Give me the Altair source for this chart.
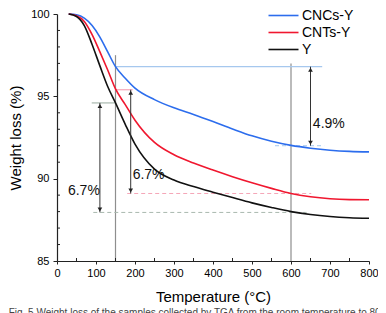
import altair as alt
import pandas as pd

# ---- data ----
temps = [30, 50, 70, 90, 110, 130, 150, 175, 200, 250, 300, 350, 400, 450, 500, 550, 600, 650, 700, 750, 800]
cncs_y = [100.0, 99.95, 99.75, 99.3, 98.6, 97.7, 96.8, 96.1, 95.5, 94.8, 94.3, 93.9, 93.47, 93.02, 92.6, 92.27, 92.02, 91.85, 91.73, 91.66, 91.63]
cnts_y = [100.0, 99.9, 99.55, 98.75, 97.7, 96.6, 95.45, 94.5, 93.55, 92.2, 91.45, 90.95, 90.52, 90.12, 89.75, 89.41, 89.1, 88.9, 88.78, 88.73, 88.72]
y_pure = [100.0, 99.85, 99.3, 98.15, 96.85, 95.6, 94.6, 93.3, 92.1, 90.58, 89.92, 89.52, 89.18, 88.85, 88.53, 88.25, 88.0, 87.82, 87.7, 87.63, 87.6]
series_names = ["CNCs-Y", "CNTs-Y", "Y"]
series_colors = ["#2c6ded", "#f0172f", "#111111"]

x_ticks = [0, 100, 200, 300, 400, 500, 600, 700, 800]
x_minor = [50, 150, 250, 350, 450, 550, 650, 750]
y_ticks = [85, 90, 95, 100]
y_minor = [86, 87, 88, 89, 91, 92, 93, 94, 96, 97, 98, 99]

# vertical guide lines
vline_t = [150, 600]
vline_top = [97.5, 97.0]
# solid horizontal marker lines
hline_y = [96.8, 95.4, 94.6]
hline_t1 = [150, 150, 89]
hline_t2 = [680, 194, 150]
hline_col = ["#a6c8ee", "#f5a6b8", "#a9b8ae"]
# dashed horizontal lines
dline_y = [92.0, 89.1, 87.95]
dline_t1 = [559, 180, 93]
dline_t2 = [685, 652, 640]
# arrows
arrow_t = [650, 189, 110]
arrow_top = [96.8, 95.4, 94.6]
arrow_bot = [92.0, 89.1, 87.95]
# labels
label_text = ["4.9%", "6.7%", "6.7%"]
label_t = [656, 194, 28]
label_y = [93.3, 90.25, 89.25]

caption = "Fig. 5  Weight loss of the samples collected by TGA from the room temperature to 800 °C."

FONT = "Liberation Sans"
W, H = 312, 247

rows = []
for name, vals in zip(series_names, [cncs_y, cnts_y, y_pure]):
    for t, v in zip(temps, vals):
        rows.append({"T": t, "W": v, "series": name})
df = pd.DataFrame(rows)

xs = alt.Scale(domain=[0, 800], nice=False, zero=False)
ys = alt.Scale(domain=[85, 100], nice=False, zero=False)

xax = alt.Axis(values=x_ticks, title="Temperature (°C)", grid=False, tickSize=3,
               labelPadding=3, titlePadding=11, domainColor="#222", tickColor="#222",
               labelColor="black", labelFontSize=11, labelFont=FONT, titleFont=FONT,
               titleFontSize=15, titleFontWeight="normal", titleColor="black",
               labelOverlap=False, labelFlush=False, labelBound=False)
yax = alt.Axis(values=y_ticks, title="Weight loss (%)", grid=False, tickSize=4,
               labelPadding=4, titlePadding=7, domainColor="#222", tickColor="#222",
               labelColor="black", labelFontSize=11, labelFont=FONT, titleFont=FONT,
               titleFontSize=15, titleFontWeight="normal", titleColor="black",
               labelOverlap=False, labelFlush=False, labelBound=False)


def X(field):
    return alt.X(field, scale=xs, axis=xax)


def Y(field):
    return alt.Y(field, scale=ys, axis=yax)


vdf = pd.DataFrame({"T": vline_t, "top": vline_top, "bot": [85] * len(vline_t)})
vlines = alt.Chart(vdf).mark_rule(color="#8e8e8e", strokeWidth=1.2).encode(
    x=X("T:Q"), y=Y("top:Q"), y2="bot:Q")

hdf = pd.DataFrame({"y": hline_y, "t1": hline_t1, "t2": hline_t2, "c": hline_col})
hlines = alt.Chart(hdf).mark_rule(strokeWidth=1.2).encode(
    x=X("t1:Q"), x2="t2:Q", y=Y("y:Q"), color=alt.Color("c:N", scale=None))

ddf = pd.DataFrame({"y": dline_y, "t1": dline_t1, "t2": dline_t2, "c": hline_col})
dlines = alt.Chart(ddf).mark_rule(strokeWidth=1, strokeDash=[4, 3]).encode(
    x=X("t1:Q"), x2="t2:Q", y=Y("y:Q"), color=alt.Color("c:N", scale=None))

curves = alt.Chart(df).mark_line(strokeWidth=1.6, interpolate="monotone").encode(
    x=X("T:Q"),
    y=Y("W:Q"),
    color=alt.Color("series:N", sort=series_names,
                    scale=alt.Scale(domain=series_names, range=series_colors),
                    legend=alt.Legend(orient="none", legendX=218, legendY=-7, title=None,
                                      symbolType="M-2,0L2,0", symbolSize=225,
                                      symbolStrokeWidth=1.6, labelFontSize=14, labelFont=FONT,
                                      labelColor="black", rowPadding=1, labelOffset=10,
                                      padding=0)),
    detail="series:N")

adf = pd.DataFrame({"T": arrow_t, "top": arrow_top, "bot": arrow_bot})
shafts = alt.Chart(adf).mark_rule(color="#333", strokeWidth=1).encode(
    x=X("T:Q"), y=Y("top:Q"), y2="bot:Q")
heads_up = alt.Chart(adf).mark_point(shape="triangle-up", filled=True, color="#222",
                                     size=22, opacity=1, yOffset=3).encode(
    x=X("T:Q"), y=Y("top:Q"))
heads_dn = alt.Chart(adf).mark_point(shape="triangle-down", filled=True, color="#222",
                                     size=22, opacity=1, yOffset=-3).encode(
    x=X("T:Q"), y=Y("bot:Q"))

ldf = pd.DataFrame({"T": label_t, "y": label_y, "txt": label_text})
labels = alt.Chart(ldf).mark_text(align="left", baseline="middle", fontSize=14,
                                  font=FONT, color="#111").encode(
    x=X("T:Q"), y=Y("y:Q"), text="txt:N")

xmdf = pd.DataFrame({"T": x_minor})
xminor = alt.Chart(xmdf).mark_rule(color="#222", strokeWidth=1).encode(
    x=X("T:Q"), y=alt.value(H), y2=alt.value(H - 3))
ymdf = pd.DataFrame({"y": y_minor})
yminor = alt.Chart(ymdf).mark_rule(color="#222", strokeWidth=1).encode(
    y=Y("y:Q"), x=alt.value(0), x2=alt.value(3))

chart = alt.layer(vlines, hlines, dlines, curves, shafts, heads_up, heads_dn, labels,
                  xminor, yminor).properties(
    width=W, height=H,
    autosize=alt.AutoSizeParams(type="none"),
    padding={"left": 49, "top": 6, "right": 9, "bottom": 62},
    background="white",
    title=alt.TitleParams(caption, orient="bottom", anchor="start", frame="bounds",
                          fontSize=10, font=FONT, fontWeight="normal", color="#444",
                          offset=4, baseline="top"),
).configure_view(stroke=None).configure_axis(domainWidth=1.2, labelOverlap=False)

chart.save("out.html", embed_options={"renderer": "svg", "actions": False})
